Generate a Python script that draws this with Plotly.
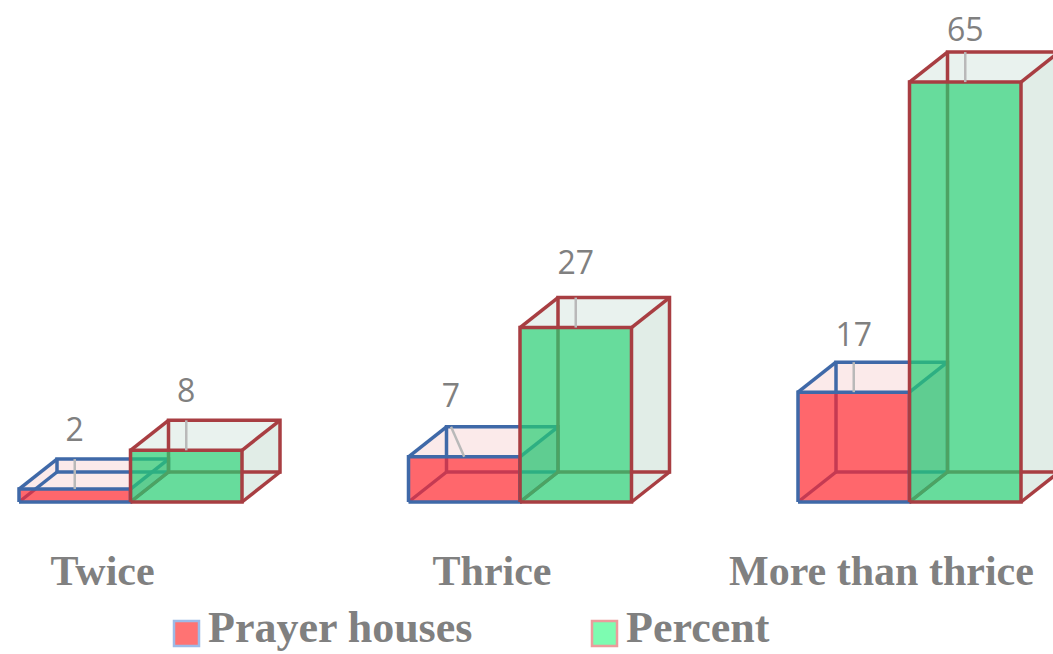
import plotly.graph_objects as go

# Survey results per category
categories = ["Twice", "Thrice", "More than thrice"]
prayer_houses = [2, 7, 17]
percent = [8, 27, 65]

WIDTH, HEIGHT = 1053, 654
GROUP_PX = 389.5      # pixels between category groups
UNIT_PX = 6.46        # pixels per value unit
ZERO_PX = 502         # pixel row of value 0
FIRST_PX = 130.5      # pixel column of the first group's centre
PLOT_BOTTOM = 540     # pixel row where the plot area ends

BAR_W = 111.5 / GROUP_PX      # bar width in category units
DEPTH_X = 38 / GROUP_PX       # oblique depth, category units
DEPTH_Y = 30 / UNIT_PX        # oblique depth, value units
LABEL_GAP_PX = {2: 26, 8: 26, 7: 28, 17: 24, 27: 32, 65: 19}  # label centre above back top edge
LABEL_NUDGE_X = {7: -0.034}
TICK_SHIFT = -28 / GROUP_PX

BLUE = "#3f69a8"
DARK_RED = "#a83e42"
GREY = "#808080"
SERIF = "Liberation Serif"


def closed(points):
    xs = [p[0] for p in points] + [points[0][0], None]
    ys = [p[1] for p in points] + [points[0][1], None]
    return xs, ys


def merge(shapes):
    xs, ys = [], []
    for x, y in shapes:
        xs += x
        ys += y
    return xs, ys


def front(x0, v):
    return closed([(x0, 0), (x0 + BAR_W, 0), (x0 + BAR_W, v), (x0, v)])


def top(x0, v):
    return closed([(x0, v), (x0 + BAR_W, v),
                   (x0 + BAR_W + DEPTH_X, v + DEPTH_Y), (x0 + DEPTH_X, v + DEPTH_Y)])


def side(x0, v):
    x1 = x0 + BAR_W
    return closed([(x1, 0), (x1 + DEPTH_X, DEPTH_Y), (x1 + DEPTH_X, v + DEPTH_Y), (x1, v)])


def wireframe(x0, v):
    x1 = x0 + BAR_W
    dx, dy = DEPTH_X, DEPTH_Y
    xs = [x0 + dx, x1 + dx, x1 + dx, x0 + dx, x0 + dx, None,
          x0, x0 + dx, None, x1, x1 + dx, None,
          x0, x0 + dx, None, x1, x1 + dx, None]
    ys = [dy, dy, v + dy, v + dy, dy, None,
          0, dy, None, 0, dy, None,
          v, v + dy, None, v, v + dy, None]
    return xs, ys


def poly_trace(shapes, fill):
    x, y = merge(shapes)
    return go.Scatter(x=x, y=y, mode="lines", fill="toself", fillcolor=fill,
                      line=dict(width=0), hoverinfo="skip", showlegend=False)


def line_trace(shapes, color):
    x, y = merge(shapes)
    return go.Scatter(x=x, y=y, mode="lines", line=dict(color=color, width=3.5),
                      hoverinfo="skip", showlegend=False)


def box_traces(starts, values, top_fill, side_fill, front_fill, edge):
    # Back faces and wireframe first, so the translucent front tints the hidden edges
    return [
        poly_trace([top(x, v) for x, v in zip(starts, values)], top_fill),
        poly_trace([side(x, v) for x, v in zip(starts, values)], side_fill),
        line_trace([wireframe(x, v) for x, v in zip(starts, values)], edge),
        poly_trace([front(x, v) for x, v in zip(starts, values)], front_fill),
        line_trace([front(x, v) for x, v in zip(starts, values)], edge),
    ]


positions = list(range(len(categories)))
fig = go.Figure()

red_starts = [i - BAR_W for i in positions]
green_starts = list(positions)

fig.add_traces(box_traces(red_starts, prayer_houses, "#fbeaea", "rgba(205,165,185,0.55)",
                          "rgba(255,39,45,0.70)", BLUE))
fig.add_traces(box_traces(green_starts, percent, "#e9f2ee", "#e1ede7",
                          "rgba(39,205,114,0.70)", DARK_RED))

# Leader lines and value labels
for starts, values in ((red_starts, prayer_houses), (green_starts, percent)):
    for x0, v in zip(starts, values):
        cx = x0 + BAR_W / 2
        nudge = LABEL_NUDGE_X.get(v, 0)
        gap = LABEL_GAP_PX[v] / UNIT_PX
        fig.add_trace(go.Scatter(x=[cx, cx + nudge], y=[v, v + DEPTH_Y], mode="lines",
                                 line=dict(color="#b9b9b9", width=2.5),
                                 hoverinfo="skip", showlegend=False))
        fig.add_trace(go.Scatter(x=[cx + nudge], y=[v + DEPTH_Y + gap], mode="text",
                                 text=[str(v)], textposition="middle center",
                                 textfont=dict(family="Open Sans", size=32, color=GREY),
                                 hoverinfo="skip", showlegend=False))


def paper_y(py):
    return (PLOT_BOTTOM - py) / PLOT_BOTTOM


# Hand-placed legend row
legend_rows = [
    ("Prayer houses", 174, 207, "#ff7373", "#9dbbe8"),
    ("Percent", 592, 625, "#7dfcb1", "#ec9c9c"),
]
for name, sx, tx, fill, border in legend_rows:
    fig.add_shape(type="rect", xref="paper", yref="paper",
                  x0=sx / WIDTH, x1=(sx + 25) / WIDTH, y0=paper_y(646), y1=paper_y(621),
                  fillcolor=fill, line=dict(color=border, width=2.5))
    fig.add_annotation(xref="paper", yref="paper", x=tx / WIDTH, y=paper_y(627.5),
                       text=name, showarrow=False, xanchor="left", yanchor="middle",
                       font=dict(family=SERIF, size=44, color=GREY, weight="bold"), borderpad=0)

fig.update_layout(
    width=WIDTH, height=HEIGHT, autosize=False,
    margin=dict(l=0, r=0, t=0, b=HEIGHT - PLOT_BOTTOM, pad=0),
    paper_bgcolor="white", plot_bgcolor="white", showlegend=False,
    xaxis=dict(range=[-FIRST_PX / GROUP_PX, (WIDTH - FIRST_PX) / GROUP_PX],
               tickmode="array", tickvals=[i + TICK_SHIFT for i in positions],
               ticktext=categories, ticks="", showgrid=False, zeroline=False, showline=False,
               ticklabelstandoff=2,
               tickfont=dict(family=SERIF, size=42, color=GREY, weight="bold"),
               fixedrange=True),
    yaxis=dict(range=[(ZERO_PX - PLOT_BOTTOM) / UNIT_PX, ZERO_PX / UNIT_PX],
               visible=False, fixedrange=True),
)

fig.write_html("out.html", config=dict(displayModeBar=False))
